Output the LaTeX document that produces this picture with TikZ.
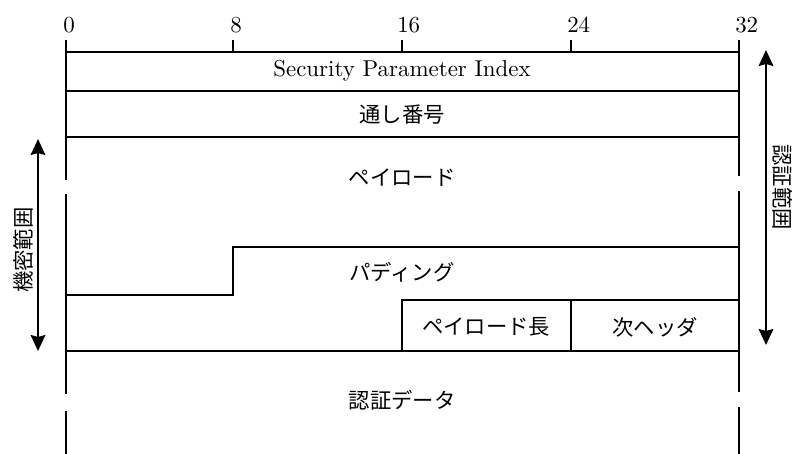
\documentclass[tikz,border=0pt]{standalone}
\usepackage{fontspec}
\newfontfamily\jpfont{Noto Sans CJK JP}
\newfontfamily\serifften{lmroman10-regular.otf}
\usetikzlibrary{arrows.meta}
\begin{document}
\begin{tikzpicture}[x=0.75pt,y=-0.75pt,
  frame/.style={line width=1.5pt, line cap=rect},
  jp/.style={font=\jpfont\fontsize{16}{18}\selectfont, inner sep=0pt},
  latin/.style={font=\serifften\fontsize{17.2}{19}\selectfont, inner sep=0pt},
  bitnum/.style={font=\serifften\fontsize{17.2}{19}\selectfont, inner sep=0pt, anchor=base west},
  rng/.style={line width=1.5pt, {Stealth[length=12pt,width=11pt,inset=1.5pt]}-{Stealth[length=12pt,width=11pt,inset=1.5pt]}}
]
\useasboundingbox (0,0) rectangle (795,453);

% bit labels
\node[bitnum] (b0)  at (63,33)  {0};
\node[bitnum] (b8)  at (230,33) {8};
\node[bitnum] (b16) at (397,33) {16};
\node[bitnum] (b24) at (567,33) {24};
\node[bitnum] (b32) at (735,33) {32};

% vertical outer lines with breaks
\draw[frame] (66,41) -- (66,179);
\draw[frame] (66,195) -- (66,393);
\draw[frame] (66,412) -- (66,453);
\draw[frame] (739,41) -- (739,175);
\draw[frame] (739,192) -- (739,391);
\draw[frame] (739,408) -- (739,453);

% ticks
\draw[frame] (233,41) -- (233,52);
\draw[frame] (402,41) -- (402,52);
\draw[frame] (571,41) -- (571,52);

% horizontal lines
\draw[frame] (66,52) -- (739,52);
\draw[frame] (66,91) -- (739,91);
\draw[frame] (66,137) -- (739,137);
\draw[frame] (66,295) -- (233,295) -- (233,247) -- (739,247);
\draw[frame] (402,300) -- (739,300);
\draw[frame] (402,300) -- (402,351);
\draw[frame] (571,300) -- (571,351);
\draw[frame] (66,351) -- (739,351);

% field labels
\node[latin] (spi) at (402,71) {Security Parameter Index};
\node[jp] (seq) at (402,115) {通し番号};
\node[jp] (pay) at (402,178) {ペイロード};
\node[jp] (pad) at (402,272) {パディング};
\node[jp] (plen) at (486,327) {ペイロード長};
\node[jp] (nh) at (655,327) {次ヘッダ};
\node[jp] (auth) at (402,400) {認証データ};

% range arrows
\coordinate (encTop) at (38,139);
\coordinate (encBot) at (38,351);
\draw[rng] (encTop) -- (encBot);
\node[jp, rotate=90] (enc) at (23,250) {機密範囲};
\coordinate (autTop) at (766,50);
\coordinate (autBot) at (766,345);
\draw[rng] (autTop) -- (autBot);
\node[jp, rotate=-90] (aut) at (783,187) {認証範囲};
\end{tikzpicture}
\end{document}
